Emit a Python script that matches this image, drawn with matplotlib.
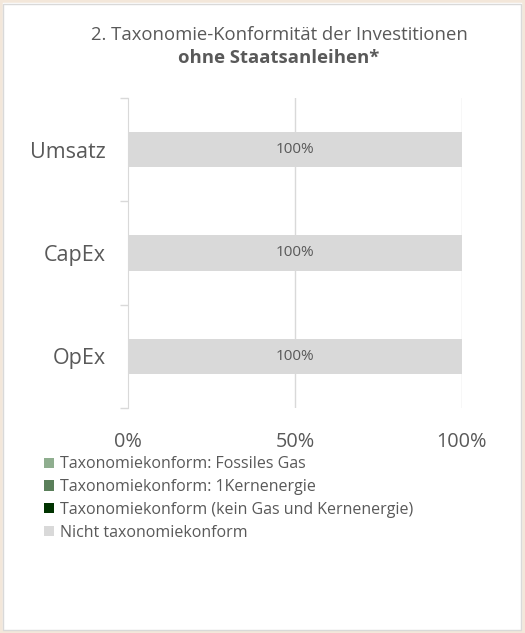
import matplotlib.pyplot as plt
from matplotlib.patches import Rectangle, Patch

plt.rcParams['font.family'] = ['Open Sans', 'DejaVu Sans']

categories = ["Umsatz", "CapEx", "OpEx"]
fossil_gas = [0, 0, 0]
nuclear = [0, 0, 0]
aligned_other = [0, 0, 0]
not_aligned = [100, 100, 100]

series_names = [
    "Taxonomiekonform: Fossiles Gas",
    "Taxonomiekonform: 1Kernenergie",
    "Taxonomiekonform (kein Gas und Kernenergie)",
    "Nicht taxonomiekonform",
]
series_colors = ["#8fae8f", "#5a7f5a", "#003300", "#d9d9d9"]
x_ticks = [0, 50, 100]
x_ticklabels = ["0%", "50%", "100%"]

text_color = "#595959"
grid_color = "#d9d9d9"

dpi = 100
fig = plt.figure(figsize=(525 / dpi, 633 / dpi), dpi=dpi)
fig.patch.set_facecolor("white")

# frame around the chart
fig.patches.append(Rectangle((0, 0), 1, 1, transform=fig.transFigure,
                             facecolor="none", edgecolor="#f3e7da", linewidth=4))
fig.patches.append(Rectangle((3 / 525, 3 / 633), 1 - 7 / 525, 1 - 7 / 633,
                             transform=fig.transFigure, facecolor="none",
                             edgecolor="#d9d9d9", linewidth=1))

ax = fig.add_axes([128 / 525, 1 - 408 / 633, 334 / 525, 310 / 633])

y_pos = list(range(len(categories)))[::-1]
left = [0, 0, 0]
for values, color in zip([fossil_gas, nuclear, aligned_other, not_aligned], series_colors):
    bars = ax.barh(y_pos, values, left=left, height=0.34, color=color, zorder=2)
    if color == series_colors[-1]:
        for bar, v in zip(bars, values):
            ax.text(bar.get_x() + bar.get_width() / 2, bar.get_y() + bar.get_height() / 2,
                    f"{v}%", ha="center", va="center", fontsize=11, color=text_color, zorder=3)
    left = [l + v for l, v in zip(left, values)]

ax.set_xlim(0, 100)
ax.set_ylim(-0.5, 2.5)
ax.set_xticks(x_ticks)
ax.set_xticklabels(x_ticklabels, fontsize=14.3, color=text_color)
ax.set_yticks(y_pos)
ax.set_yticklabels(categories, fontsize=15.5, color=text_color)
ax.set_yticks([-0.5, 0.5, 1.5, 2.5], minor=True)
ax.tick_params(axis="y", which="major", length=0, pad=16)
ax.tick_params(axis="y", which="minor", length=6, color=grid_color, width=1)
ax.tick_params(axis="x", length=0, pad=17)

for s in ["top", "right", "bottom"]:
    ax.spines[s].set_visible(False)
ax.spines["left"].set_color(grid_color)

for xv in x_ticks[1:]:
    ax.axvline(xv, color=grid_color, linewidth=1, zorder=1)

handles = [Patch(facecolor=c, edgecolor="none") for c in series_colors]
fig.legend(handles, series_names, loc="upper left", bbox_to_anchor=(38 / 525, 1 - 450 / 633),
           frameon=False, fontsize=11.5, labelcolor=text_color, handlelength=0.6,
           handleheight=0.6, handletextpad=0.35, labelspacing=0.42, borderaxespad=0)

fig.text(279 / 525, 1 - 35 / 633, "2. Taxonomie-Konformität der Investitionen",
         ha="center", va="center", fontsize=13.3, color=text_color)
fig.text(279 / 525, 1 - 58 / 633, "ohne Staatsanleihen*",
         ha="center", va="center", fontsize=13.3, color=text_color, fontweight="bold")

fig.savefig("out.png", dpi=dpi, facecolor="white")
